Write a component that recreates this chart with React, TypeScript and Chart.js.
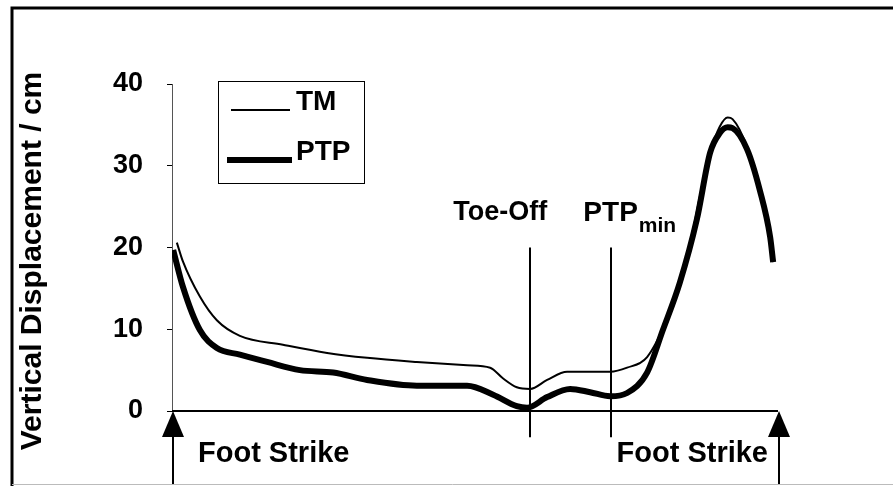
import React, { useEffect, useRef } from "react";
import { Chart, registerables } from "chart.js";

Chart.register(...registerables);

// % of gait cycle (x) and vertical displacement in cm (y)
const tmX = [0.8, 1.8, 4.6, 7.4, 11.2, 18.3, 25.6, 32.2, 40.4, 48.7, 52.5, 54.6, 56.9, 59.1, 61.9, 65.2, 72.3, 75.1, 78.4, 81.4, 83.8, 86.0, 87.1, 88.8, 90.4, 91.7, 92.5, 94.9, 97.0, 98.7, 99.2];
const tmY = [20.6, 18.3, 14.0, 11.1, 9.2, 8.1, 7.1, 6.5, 6.0, 5.6, 5.3, 4.0, 2.9, 2.7, 3.8, 4.8, 4.8, 5.3, 6.6, 10.8, 16.0, 22.2, 26.2, 31.6, 34.8, 35.9, 35.7, 32.3, 27.0, 21.3, 18.2];

const ptpX = [0.2, 1.8, 4.6, 7.4, 11.2, 15.7, 21.1, 26.6, 32.2, 40.4, 48.7, 53.0, 56.9, 58.6, 61.9, 65.7, 69.0, 72.3, 75.1, 78.4, 81.0, 83.8, 86.6, 88.8, 90.4, 91.7, 92.5, 94.9, 97.0, 98.7, 99.2];
const ptpY = [19.7, 15.2, 9.9, 7.7, 6.9, 6.0, 5.0, 4.7, 3.8, 3.1, 3.1, 2.0, 0.6, 0.4, 1.7, 2.7, 2.3, 1.8, 2.2, 4.7, 9.9, 15.7, 23.4, 31.6, 34.0, 34.7, 34.6, 32.0, 27.0, 21.3, 18.2];

const seriesNames = ["TM", "PTP"];
const yTicks = [0, 10, 20, 30, 40];
const toeOffX = 59.1;
const ptpMinX = 72.5;
const footStrikeX = [0, 100];
const markerTop = 20;
const markerBottom = -3.2;

const FONT = '"Liberation Sans", Arial, sans-serif';

const overlay = {
  id: "overlay",
  afterDraw(chart: any) {
    const ctx = chart.ctx as CanvasRenderingContext2D;
    const xs = chart.scales.x;
    const ys = chart.scales.y;
    const W = chart.width;
    const H = chart.height;
    ctx.save();
    ctx.strokeStyle = "#000";
    ctx.fillStyle = "#000";

    // frame
    ctx.lineWidth = 3;
    ctx.beginPath();
    ctx.moveTo(12, H);
    ctx.lineTo(12, 8);
    ctx.lineTo(W, 8);
    ctx.stroke();
    ctx.strokeStyle = "#bbb";
    ctx.lineWidth = 1;
    ctx.beginPath();
    ctx.moveTo(12, 484.5);
    ctx.lineTo(W, 484.5);
    ctx.stroke();
    ctx.strokeStyle = "#000";

    // baseline
    const y0 = ys.getPixelForValue(0);
    const xl = xs.getPixelForValue(footStrikeX[0]);
    const xr = xs.getPixelForValue(footStrikeX[1]);
    ctx.lineWidth = 2;
    ctx.beginPath();
    ctx.moveTo(xl, y0);
    ctx.lineTo(xr, y0);
    ctx.stroke();

    // marker lines
    const yt = ys.getPixelForValue(markerTop);
    const yb = ys.getPixelForValue(markerBottom);
    [toeOffX, ptpMinX].forEach((v) => {
      const px = Math.round(xs.getPixelForValue(v));
      ctx.beginPath();
      ctx.moveTo(px, yt);
      ctx.lineTo(px, yb);
      ctx.stroke();
    });

    // foot strike arrows
    footStrikeX.forEach((v) => {
      const px = Math.round(xs.getPixelForValue(v)) + 1;
      ctx.lineWidth = 2;
      ctx.beginPath();
      ctx.moveTo(px, y0 + 10);
      ctx.lineTo(px, H - 2);
      ctx.stroke();
      ctx.beginPath();
      ctx.moveTo(px, y0);
      ctx.lineTo(px - 11, y0 + 26);
      ctx.lineTo(px + 11, y0 + 26);
      ctx.closePath();
      ctx.fill();
    });

    // text labels
    ctx.font = `bold 29px ${FONT}`;
    ctx.textBaseline = "middle";
    ctx.textAlign = "left";
    ctx.fillText("Foot Strike", xl + 26, 454);
    ctx.textAlign = "right";
    ctx.fillText("Foot Strike", xr - 10, 454);
    ctx.font = `bold 27px ${FONT}`;
    ctx.fillText("Toe-Off", xs.getPixelForValue(toeOffX) + 17, 213);
    ctx.textAlign = "left";
    const pxMin = xs.getPixelForValue(ptpMinX);
    ctx.font = `bold 28px ${FONT}`;
    ctx.fillText("PTP", pxMin - 28, 213);
    const wP = ctx.measureText("PTP").width;
    ctx.font = `bold 21px ${FONT}`;
    ctx.fillText("min", pxMin - 28 + wP + 1, 226);

    // legend
    ctx.lineWidth = 1;
    ctx.strokeRect(218.5, 81.5, 146, 102);
    ctx.lineWidth = 2;
    ctx.beginPath();
    ctx.moveTo(231, 110);
    ctx.lineTo(290, 110);
    ctx.stroke();
    ctx.lineWidth = 6;
    ctx.beginPath();
    ctx.moveTo(227, 160);
    ctx.lineTo(292, 160);
    ctx.stroke();
    ctx.font = `bold 28px ${FONT}`;
    ctx.textAlign = "left";
    ctx.fillText(seriesNames[0], 296, 102);
    ctx.fillText(seriesNames[1], 296, 152);

    // y title
    ctx.save();
    ctx.translate(33, 261);
    ctx.rotate(-Math.PI / 2);
    ctx.textAlign = "center";
    ctx.font = `bold 30px ${FONT}`;
    ctx.fillText("Vertical Displacement / cm", 0, 0);
    ctx.restore();

    ctx.restore();
  },
};

export default function App() {
  const ref = useRef<HTMLCanvasElement>(null);
  useEffect(() => {
    document.body.style.margin = "0";
    const tmData = tmX.map((x, i) => ({ x, y: tmY[i] }));
    const ptpData = ptpX.map((x, i) => ({ x, y: ptpY[i] }));
    const chart = new Chart(ref.current!, {
      type: "line",
      data: {
        datasets: [
          {
            label: seriesNames[1],
            data: ptpData,
            borderColor: "#000",
            borderWidth: 6,
            pointRadius: 0,
            cubicInterpolationMode: "monotone",
            fill: false,
          },
          {
            label: seriesNames[0],
            data: tmData,
            borderColor: "#000",
            borderWidth: 2,
            pointRadius: 0,
            cubicInterpolationMode: "monotone",
            fill: false,
          },
        ],
      },
      options: {
        animation: false,
        responsive: true,
        maintainAspectRatio: false,
        layout: { padding: { left: 0, right: 115, top: 84, bottom: 75 } },
        plugins: { legend: { display: false }, tooltip: { enabled: false } },
        scales: {
          x: { type: "linear", min: 0, max: 100, display: false },
          y: {
            min: 0,
            max: 40,
            afterFit: (s: any) => {
              s.width = 172;
            },
            afterBuildTicks: (s: any) => {
              s.ticks = yTicks.map((v) => ({ value: v }));
            },
            grid: { drawOnChartArea: false, tickLength: 5, color: "#000", lineWidth: 1 },
            border: { display: true, color: "#555", width: 1 },
            ticks: {
              color: "#000",
              padding: 24,
              font: { family: FONT, size: 27, weight: "bold" },
            },
          },
        },
      },
      plugins: [overlay],
    });
    return () => chart.destroy();
  }, []);
  return (
    <div style={{ width: 893, height: 486, position: "relative", background: "#fff" }}>
      <canvas ref={ref} />
    </div>
  );
}
